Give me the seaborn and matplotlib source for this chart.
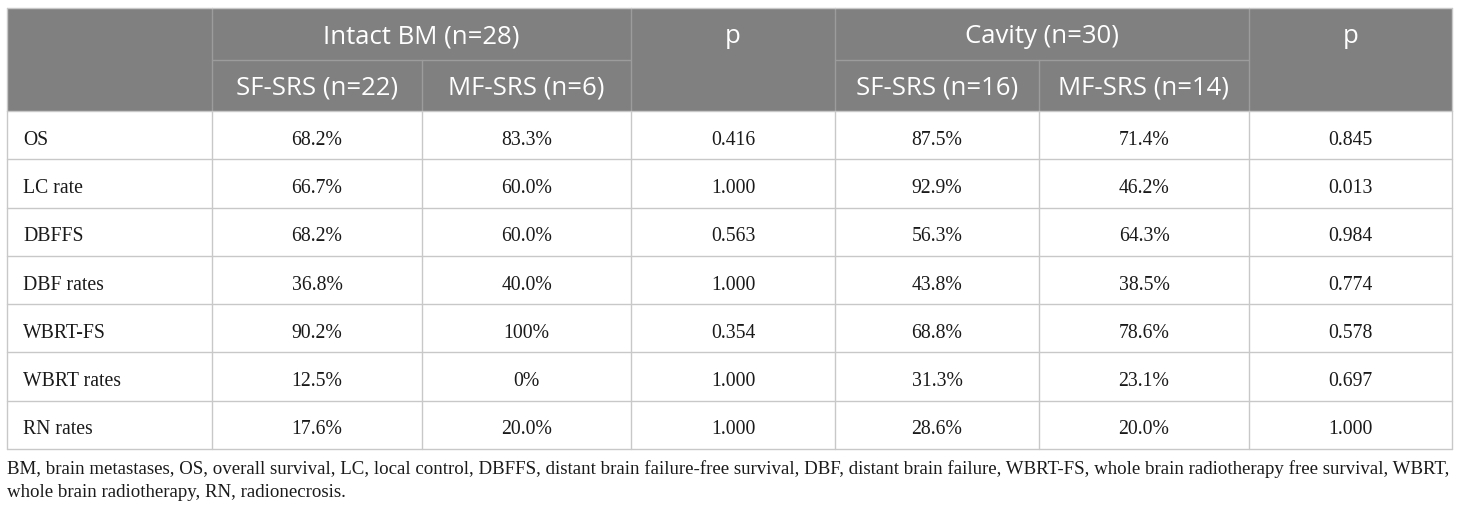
import matplotlib
matplotlib.use("Agg")
import matplotlib.pyplot as plt
from matplotlib.patches import Rectangle
import seaborn as sns

# ---- data ----
row_labels = ["OS", "LC rate", "DBFFS", "DBF rates", "WBRT-FS", "WBRT rates", "RN rates"]
intact_sf = ["68.2%", "66.7%", "68.2%", "36.8%", "90.2%", "12.5%", "17.6%"]
intact_mf = ["83.3%", "60.0%", "60.0%", "40.0%", "100%", "0%", "20.0%"]
intact_p = ["0.416", "1.000", "0.563", "1.000", "0.354", "1.000", "1.000"]
cavity_sf = ["87.5%", "92.9%", "56.3%", "43.8%", "68.8%", "31.3%", "28.6%"]
cavity_mf = ["71.4%", "46.2%", "64.3%", "38.5%", "78.6%", "23.1%", "20.0%"]
cavity_p = ["0.845", "0.013", "0.984", "0.774", "0.578", "0.697", "1.000"]
group_headers = ["Intact BM (n=28)", "p", "Cavity (n=30)", "p"]
sub_headers = ["SF-SRS (n=22)", "MF-SRS (n=6)", "SF-SRS (n=16)", "MF-SRS (n=14)"]
footnote_lines = [
    "BM, brain metastases, OS, overall survival, LC, local control, DBFFS, distant brain failure-free survival, DBF, distant brain failure, WBRT-FS, whole brain radiotherapy free survival, WBRT,",
    "whole brain radiotherapy, RN, radionecrosis.",
]

sns.set_theme(style="white")

W, H = 1460, 512
fig = plt.figure(figsize=(W / 100, H / 100), dpi=100)
ax = fig.add_axes([0, 0, 1, 1])
ax.set_xlim(0, W)
ax.set_ylim(H, 0)
ax.axis("off")

xe = [7, 212, 422, 631, 835, 1039, 1249, 1452]
y_top, y_mid, y_head = 7.5, 59.5, 111
row_h = (449 - y_head) / 7
ye = [y_head + i * row_h for i in range(8)]

hdr_bg = "#808080"
hdr_line = "#9c9c9c"
grid = "#c8c8c8"
txt = "#1a1a1a"
sans = ["Open Sans", "DejaVu Sans"]
serif = ["Liberation Serif", "DejaVu Serif"]

# header background
ax.add_patch(Rectangle((xe[0], y_top), xe[-1] - xe[0], y_head - y_top,
                       facecolor=hdr_bg, edgecolor="none", zorder=1))
# header lines
for x in [xe[1], xe[3], xe[4], xe[6]]:
    ax.plot([x, x], [y_top, y_head], color=hdr_line, lw=1, zorder=2)
for x in [xe[2], xe[5]]:
    ax.plot([x, x], [y_mid, y_head], color=hdr_line, lw=1, zorder=2)
ax.plot([xe[1], xe[3]], [y_mid, y_mid], color=hdr_line, lw=1, zorder=2)
ax.plot([xe[4], xe[6]], [y_mid, y_mid], color=hdr_line, lw=1, zorder=2)

# header texts
hfs = 18.5
off = 9.5
y1 = (y_top + y_mid) / 2 + off
y2 = (y_mid + y_head) / 2 + off
for (a, b), lab in zip([(1, 3), (3, 4), (4, 6), (6, 7)], group_headers):
    ax.text((xe[a] + xe[b]) / 2, y1, lab, ha="center", va="baseline",
            color="white", fontsize=hfs, family=sans)
for i, ci in enumerate([1, 2, 4, 5]):
    ax.text((xe[ci] + xe[ci + 1]) / 2, y2, sub_headers[i], ha="center", va="baseline",
            color="white", fontsize=hfs, family=sans)

# body grid
for y in ye:
    ax.plot([xe[0], xe[-1]], [y, y], color=grid, lw=1, zorder=2)
for x in xe:
    ax.plot([x, x], [ye[0], ye[-1]], color=grid, lw=1, zorder=2)
ax.plot([xe[0], xe[-1]], [y_top, y_top], color=grid, lw=1, zorder=2)
ax.plot([xe[0], xe[0]], [y_top, y_head], color=grid, lw=1, zorder=2)
ax.plot([xe[-1], xe[-1]], [y_top, y_head], color=grid, lw=1, zorder=2)

# body texts
bfs = 14.2
cols = [intact_sf, intact_mf, intact_p, cavity_sf, cavity_mf, cavity_p]
for r, lab in enumerate(row_labels):
    yb = (ye[r] + ye[r + 1]) / 2 + 9.5
    ax.text(xe[0] + 16, yb, lab, ha="left", va="baseline", color=txt,
            fontsize=bfs, family=serif)
    for c, vals in enumerate(cols):
        ax.text((xe[c + 1] + xe[c + 2]) / 2, yb, vals[r], ha="center", va="baseline",
                color=txt, fontsize=bfs, family=serif)

# footnote
for yb, line in zip([474.5, 497], footnote_lines):
    ax.text(xe[0], yb, line, ha="left", va="baseline", color=txt,
            fontsize=13.6, family=serif)

fig.savefig("out.png", dpi=100, facecolor="white")
